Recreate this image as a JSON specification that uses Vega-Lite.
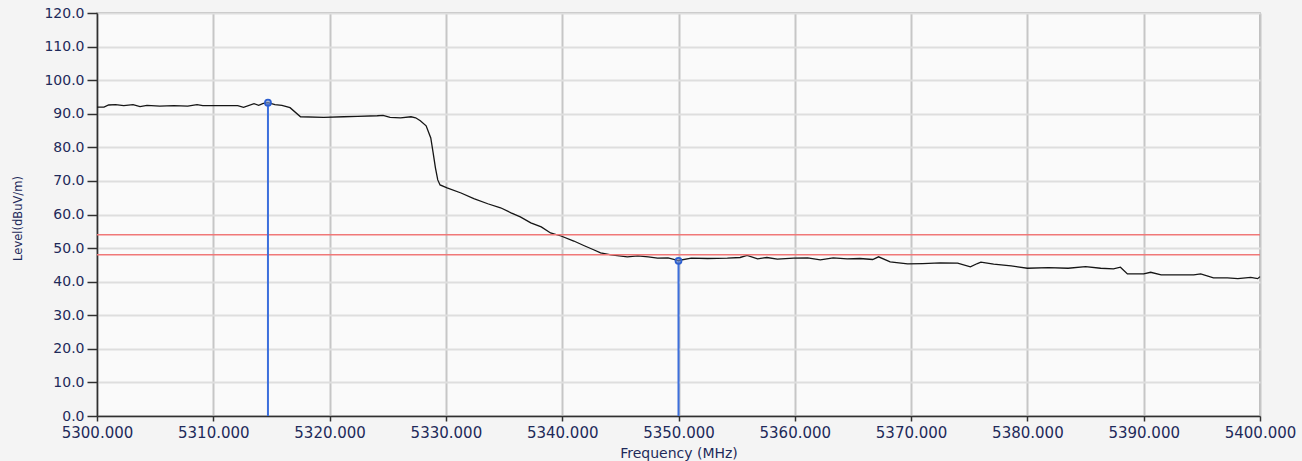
{
  "$schema": "https://vega.github.io/schema/vega-lite/v6.json",
  "width": 1163,
  "height": 403,
  "autosize": {"type": "none"},
  "padding": {"left": 97, "top": 13, "right": 42, "bottom": 45},
  "background": "#f4f4f4",
  "config": {
    "view": {"fill": "#fafafa", "stroke": "#a8a8a8", "strokeWidth": 1.5},
    "axis": {
      "labelFont": "DejaVu Sans",
      "titleFont": "DejaVu Sans",
      "labelColor": "#1e2a5a",
      "titleColor": "#1e2a5a",
      "titleFontWeight": "normal",
      "domainColor": "#303030",
      "domainWidth": 1.5,
      "tickColor": "#303030",
      "tickWidth": 1.5,
      "gridWidth": 2
    }
  },
  "datasets": {
    "trace": [
      {"freq": 5300.0, "level": 92.0},
      {"freq": 5300.6, "level": 92.0},
      {"freq": 5301.0, "level": 92.6},
      {"freq": 5301.6, "level": 92.7},
      {"freq": 5302.3, "level": 92.4},
      {"freq": 5303.1, "level": 92.7},
      {"freq": 5303.7, "level": 92.1},
      {"freq": 5304.3, "level": 92.5},
      {"freq": 5305.4, "level": 92.3},
      {"freq": 5306.6, "level": 92.4},
      {"freq": 5307.8, "level": 92.3},
      {"freq": 5308.6, "level": 92.7},
      {"freq": 5309.1, "level": 92.4},
      {"freq": 5312.1, "level": 92.4},
      {"freq": 5312.6, "level": 91.9},
      {"freq": 5313.5, "level": 93.0},
      {"freq": 5313.9, "level": 92.5},
      {"freq": 5314.3, "level": 93.1},
      {"freq": 5314.7, "level": 93.3},
      {"freq": 5315.3, "level": 92.7},
      {"freq": 5315.9, "level": 92.5},
      {"freq": 5316.6, "level": 91.8},
      {"freq": 5317.5, "level": 89.1},
      {"freq": 5319.5, "level": 88.9},
      {"freq": 5321.2, "level": 89.1},
      {"freq": 5322.4, "level": 89.2},
      {"freq": 5324.1, "level": 89.4},
      {"freq": 5324.6, "level": 89.5},
      {"freq": 5325.2, "level": 88.9},
      {"freq": 5326.1, "level": 88.8},
      {"freq": 5327.0, "level": 89.1},
      {"freq": 5327.4, "level": 88.8},
      {"freq": 5327.8, "level": 87.9},
      {"freq": 5328.3, "level": 86.4},
      {"freq": 5328.7, "level": 82.8},
      {"freq": 5328.9, "level": 78.4},
      {"freq": 5329.1, "level": 73.9},
      {"freq": 5329.3, "level": 70.3},
      {"freq": 5329.5, "level": 68.8},
      {"freq": 5330.1, "level": 67.9},
      {"freq": 5331.3, "level": 66.4},
      {"freq": 5332.4, "level": 64.7},
      {"freq": 5333.6, "level": 63.2},
      {"freq": 5334.7, "level": 62.0},
      {"freq": 5335.6, "level": 60.5},
      {"freq": 5336.4, "level": 59.3},
      {"freq": 5337.3, "level": 57.5},
      {"freq": 5338.2, "level": 56.3},
      {"freq": 5339.0, "level": 54.5},
      {"freq": 5339.9, "level": 53.6},
      {"freq": 5341.0, "level": 52.1},
      {"freq": 5341.9, "level": 50.7},
      {"freq": 5342.7, "level": 49.5},
      {"freq": 5343.3, "level": 48.6},
      {"freq": 5344.2, "level": 48.0},
      {"freq": 5345.6, "level": 47.4},
      {"freq": 5346.5, "level": 47.7},
      {"freq": 5347.4, "level": 47.4},
      {"freq": 5348.2, "level": 47.0},
      {"freq": 5349.1, "level": 47.1},
      {"freq": 5350.0, "level": 46.3},
      {"freq": 5351.1, "level": 47.0},
      {"freq": 5352.5, "level": 46.9},
      {"freq": 5354.2, "level": 47.0},
      {"freq": 5355.3, "level": 47.2},
      {"freq": 5355.9, "level": 47.8},
      {"freq": 5356.8, "level": 46.8},
      {"freq": 5357.6, "level": 47.2},
      {"freq": 5358.5, "level": 46.7},
      {"freq": 5359.9, "level": 47.0},
      {"freq": 5361.1, "level": 47.1},
      {"freq": 5362.2, "level": 46.5},
      {"freq": 5363.3, "level": 47.1},
      {"freq": 5364.5, "level": 46.8},
      {"freq": 5365.6, "level": 46.9},
      {"freq": 5366.7, "level": 46.6},
      {"freq": 5367.2, "level": 47.4},
      {"freq": 5368.2, "level": 45.9},
      {"freq": 5369.7, "level": 45.3},
      {"freq": 5371.0, "level": 45.4},
      {"freq": 5372.5, "level": 45.6},
      {"freq": 5374.0, "level": 45.5},
      {"freq": 5375.1, "level": 44.4},
      {"freq": 5375.7, "level": 45.4},
      {"freq": 5376.0, "level": 45.8},
      {"freq": 5377.1, "level": 45.2},
      {"freq": 5378.6, "level": 44.7},
      {"freq": 5380.0, "level": 44.0},
      {"freq": 5381.8, "level": 44.2},
      {"freq": 5383.5, "level": 44.0},
      {"freq": 5385.0, "level": 44.5},
      {"freq": 5386.3, "level": 44.0},
      {"freq": 5387.4, "level": 43.8},
      {"freq": 5388.0, "level": 44.3},
      {"freq": 5388.6, "level": 42.3},
      {"freq": 5390.0, "level": 42.3},
      {"freq": 5390.6, "level": 42.8},
      {"freq": 5391.5, "level": 42.0},
      {"freq": 5392.9, "level": 42.0},
      {"freq": 5394.3, "level": 42.0},
      {"freq": 5394.9, "level": 42.3},
      {"freq": 5396.0, "level": 41.1},
      {"freq": 5397.2, "level": 41.1},
      {"freq": 5398.1, "level": 40.9},
      {"freq": 5399.2, "level": 41.3},
      {"freq": 5399.8, "level": 40.9},
      {"freq": 5400.0, "level": 41.5}
    ],
    "limits": [
      {"level": 54.0},
      {"level": 48.0}
    ],
    "markers": [
      {"freq": 5314.7, "level": 93.3},
      {"freq": 5350.0, "level": 46.2}
    ]
  },
  "layer": [
    {
      "data": {"name": "trace"},
      "mark": {"type": "line", "color": "#151515", "strokeWidth": 1.3, "interpolate": "linear"},
      "encoding": {
        "x": {
          "field": "freq", "type": "quantitative",
          "scale": {"domain": [5300, 5400], "nice": false, "zero": false},
          "axis": {
            "values": [5300, 5310, 5320, 5330, 5340, 5350, 5360, 5370, 5380, 5390, 5400],
            "format": ".3f", "grid": true, "gridColor": "#c6c6c6",
            "tickSize": 5, "labelPadding": 4, "labelFontSize": 15,
            "labelOverlap": false, "labelBound": false, "labelFlush": false,
            "title": "Frequency (MHz)", "titleFontSize": 14, "titleBaseline": "middle", "titleY": 37
          }
        },
        "y": {
          "field": "level", "type": "quantitative",
          "scale": {"domain": [0, 120], "nice": false},
          "axis": {
            "values": [0, 10, 20, 30, 40, 50, 60, 70, 80, 90, 100, 110, 120],
            "tickCount": 13,
            "format": ".1f", "grid": true, "gridColor": "#dedede",
            "tickSize": 10, "labelPadding": 3, "labelFontSize": 14,
            "labelOverlap": false, "labelBound": false, "labelFlush": false,
            "title": "Level(dBuV/m)", "titleFontSize": 11.5, "titleAngle": -90,
            "titleAlign": "center", "titleBaseline": "middle", "titleX": -79, "titleY": 205
          }
        }
      }
    },
    {
      "data": {"name": "limits"},
      "mark": {"type": "rule", "color": "#f07878", "strokeWidth": 1.5},
      "encoding": {
        "y": {
          "field": "level", "type": "quantitative",
          "scale": {"domain": [0, 120], "nice": false},
          "axis": {
            "values": [0, 10, 20, 30, 40, 50, 60, 70, 80, 90, 100, 110, 120],
            "tickCount": 13,
            "format": ".1f", "grid": true, "gridColor": "#dedede",
            "tickSize": 10, "labelPadding": 3, "labelFontSize": 14,
            "labelOverlap": false, "labelBound": false, "labelFlush": false,
            "title": "Level(dBuV/m)", "titleFontSize": 11.5, "titleAngle": -90,
            "titleAlign": "center", "titleBaseline": "middle", "titleX": -79, "titleY": 205
          }
        }
      }
    },
    {
      "data": {"name": "markers"},
      "mark": {"type": "rule", "color": "#3c6fdc", "strokeWidth": 2},
      "encoding": {
        "x": {
          "field": "freq", "type": "quantitative",
          "scale": {"domain": [5300, 5400], "nice": false, "zero": false},
          "axis": {
            "values": [5300, 5310, 5320, 5330, 5340, 5350, 5360, 5370, 5380, 5390, 5400],
            "format": ".3f", "grid": true, "gridColor": "#c6c6c6",
            "tickSize": 5, "labelPadding": 4, "labelFontSize": 15,
            "labelOverlap": false, "labelBound": false, "labelFlush": false,
            "title": "Frequency (MHz)", "titleFontSize": 14, "titleBaseline": "middle", "titleY": 37
          }
        },
        "y": {
          "field": "level", "type": "quantitative",
          "scale": {"domain": [0, 120], "nice": false},
          "axis": {
            "values": [0, 10, 20, 30, 40, 50, 60, 70, 80, 90, 100, 110, 120],
            "tickCount": 13,
            "format": ".1f", "grid": true, "gridColor": "#dedede",
            "tickSize": 10, "labelPadding": 3, "labelFontSize": 14,
            "labelOverlap": false, "labelBound": false, "labelFlush": false,
            "title": "Level(dBuV/m)", "titleFontSize": 11.5, "titleAngle": -90,
            "titleAlign": "center", "titleBaseline": "middle", "titleX": -79, "titleY": 205
          }
        },
        "y2": {"datum": 0}
      }
    },
    {
      "data": {"name": "markers"},
      "mark": {"type": "point", "shape": "circle", "size": 36, "filled": false, "stroke": "#2c5fd0", "strokeWidth": 1.8, "fill": "#7a8fc0", "fillOpacity": 0.6},
      "encoding": {
        "x": {
          "field": "freq", "type": "quantitative",
          "scale": {"domain": [5300, 5400], "nice": false, "zero": false},
          "axis": {
            "values": [5300, 5310, 5320, 5330, 5340, 5350, 5360, 5370, 5380, 5390, 5400],
            "format": ".3f", "grid": true, "gridColor": "#c6c6c6",
            "tickSize": 5, "labelPadding": 4, "labelFontSize": 15,
            "labelOverlap": false, "labelBound": false, "labelFlush": false,
            "title": "Frequency (MHz)", "titleFontSize": 14, "titleBaseline": "middle", "titleY": 37
          }
        },
        "y": {
          "field": "level", "type": "quantitative",
          "scale": {"domain": [0, 120], "nice": false},
          "axis": {
            "values": [0, 10, 20, 30, 40, 50, 60, 70, 80, 90, 100, 110, 120],
            "tickCount": 13,
            "format": ".1f", "grid": true, "gridColor": "#dedede",
            "tickSize": 10, "labelPadding": 3, "labelFontSize": 14,
            "labelOverlap": false, "labelBound": false, "labelFlush": false,
            "title": "Level(dBuV/m)", "titleFontSize": 11.5, "titleAngle": -90,
            "titleAlign": "center", "titleBaseline": "middle", "titleX": -79, "titleY": 205
          }
        }
      }
    }
  ]
}
